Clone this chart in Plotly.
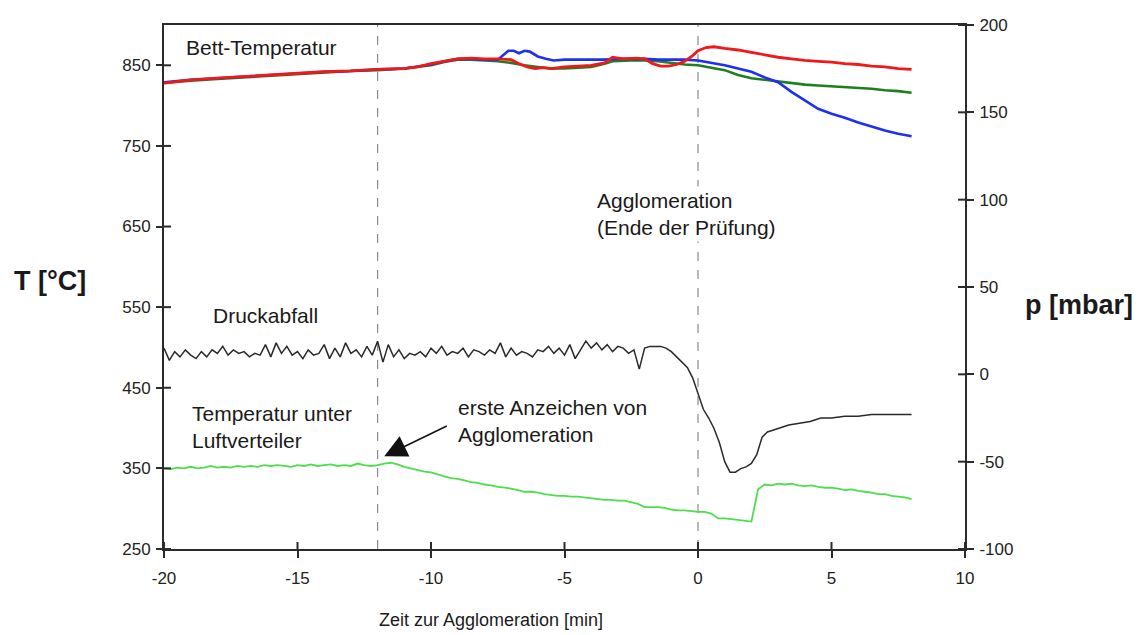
import plotly.graph_objects as go

# ---------------- data ----------------
# Bed temperatures (left axis, °C)
red_x = [-20, -19.5, -19, -18, -17, -16, -15, -14, -13, -12, -11, -10.5, -10, -9.5, -9, -8.5, -8, -7.5, -7,
         -6.7, -6.4, -6.1, -5.8, -5.5, -5, -4.5, -4, -3.5, -3.2, -2.8, -2.3, -2, -1.7, -1.4, -1.1, -0.8, -0.5,
         -0.2, 0, 0.3, 0.6, 1, 1.5, 2, 2.5, 3, 3.5, 4, 4.5, 5, 5.5, 6, 6.5, 7, 7.5, 8]
red_t = [828, 830, 832, 834, 836, 838, 840, 842, 843, 845, 846, 848, 852, 855, 858, 859, 858, 858, 857,
         852, 848, 846, 847, 846, 848, 849, 850, 853, 860, 858, 859, 858, 852, 849, 849, 851, 855,
         862, 868, 872, 873, 871, 869, 866, 863, 860, 858, 856, 855, 854, 852, 851, 849, 848, 846, 845]

blue_x = [-20, -19, -18, -17, -16, -15, -14, -13, -12, -11, -10, -9.5, -9, -8.5, -8, -7.5, -7.3, -7.1, -6.9,
          -6.7, -6.5, -6.3, -6.0, -5.7, -5.4, -5, -4.5, -4, -3.5, -3, -2.5, -2, -1.5, -1, -0.5, 0, 0.5, 1,
          1.5, 2, 2.5, 3, 3.5, 4, 4.5, 5, 5.5, 6, 6.5, 7, 7.5, 8]
blue_t = [829, 832, 834, 836, 838, 840, 842, 843, 845, 846, 851, 855, 858, 858, 857, 857, 862, 868, 868,
          865, 868, 867, 861, 858, 856, 857, 857, 857, 857, 858, 858, 858, 857, 857, 857, 856, 853, 850,
          846, 842, 835, 829, 817, 806, 796, 790, 785, 779, 774, 769, 765, 762]

green_x = [-20, -19, -18, -17, -16, -15, -14, -13, -12, -11, -10, -9.5, -9, -8.5, -8, -7.5, -7, -6.5, -6,
           -5.5, -5, -4.5, -4, -3.5, -3.2, -2.5, -2, -1.5, -1, -0.5, 0, 0.5, 1, 1.5, 2, 2.5, 3, 3.5, 4,
           4.5, 5, 5.5, 6, 6.5, 7, 7.5, 8]
green_t = [828, 831, 833, 835, 837, 839, 841, 843, 844, 846, 850, 854, 857, 857, 856, 855, 853, 850, 848,
           846, 846, 847, 848, 852, 855, 856, 856, 855, 853, 851, 850, 847, 844, 838, 834, 832, 830, 828, 826,
           825, 824, 823, 822, 821, 819, 818, 816]

# Temperature below the air distributor (left axis, °C), sampled every 0.25 min from -20
lg_start, lg_step = -20.0, 0.25
lg_t = [350, 349, 351, 350, 352, 350, 351, 353, 351, 352, 351, 353, 352, 353, 352, 354,
        353, 354, 353, 352, 354, 353, 355, 353, 354, 355, 353, 354, 353, 356, 354, 353,
        354, 356, 357, 355, 352, 350, 348, 346, 345, 342, 340, 338, 337, 335, 333, 332,
        330, 329, 327, 326, 325, 323, 321, 321, 320, 318, 317, 316, 316, 315, 315, 314,
        313, 312, 311, 311, 310, 310, 308, 306, 302, 302, 302, 301, 299, 298, 298, 297,
        296, 296, 294, 288, 288, 287, 286, 285, 284, 324, 330, 329, 331, 330, 331, 329,
        328, 329, 327, 326, 326, 325, 323, 324, 322, 321, 320, 318, 318, 316, 315, 314,
        312]

# Pressure drop (right axis, mbar): noisy part every 0.2 min from -20 to -1.2, then the drop
p_start, p_step = -20.0, 0.2
p_noisy = [15, 8, 13, 10, 14, 11, 9, 13, 10, 14, 12, 16, 11, 14, 12, 13, 10, 12, 11, 17,
           10, 18, 12, 16, 11, 13, 9, 14, 11, 12, 17, 9, 15, 10, 18, 12, 14, 10, 16, 11,
           19, 7, 17, 10, 14, 9, 12, 11, 13, 10, 15, 12, 16, 11, 13, 12, 15, 10, 14, 13,
           11, 14, 12, 18, 10, 15, 11, 13, 12, 10, 14, 13, 16, 12, 15, 11, 17, 9, 14, 19,
           15, 18, 14, 17, 13, 16, 15, 12, 14, 3, 15, 16, 16, 16, 15]
p_tail_x = [-1.0, -0.8, -0.6, -0.4, -0.2, 0, 0.2, 0.4, 0.6, 0.8, 1.0, 1.2, 1.4, 1.6, 1.8, 2.0, 2.2, 2.4,
            2.6, 2.8, 3.0, 3.4, 3.8, 4.2, 4.6, 5.0, 5.5, 6.0, 6.5, 7.0, 7.5, 8.0]
p_tail = [13, 10, 7, 4, -2, -11, -20, -25, -31, -39, -50, -56, -56, -54, -53, -51, -46, -36,
          -33, -32, -31, -29, -28, -27, -25, -25, -24, -24, -23, -23, -23, -23]

event_times = [-12, 0]

x_ticks = [-20, -15, -10, -5, 0, 5, 10]
t_ticks = [250, 350, 450, 550, 650, 750, 850]
p_ticks = [-100, -50, 0, 50, 100, 150, 200]

# ---------------- figure ----------------
W, H = 1141, 635
L, R, T, B = 164, 965, 25, 549
FONT = "Liberation Sans, Arial, sans-serif"
AX = "#2b2b2b"
TICKLEN = 7

lg_x = [lg_start + lg_step * i for i in range(len(lg_t))]
p_x = [p_start + p_step * i for i in range(len(p_noisy))] + p_tail_x
p_v = p_noisy + p_tail

fig = go.Figure()
fig.add_trace(go.Scatter(x=lg_x, y=lg_t, mode="lines", line=dict(color="#4be04b", width=1.8),
                         yaxis="y", showlegend=False))
fig.add_trace(go.Scatter(x=p_x, y=p_v, mode="lines", line=dict(color="#2a2a2a", width=1.5),
                         yaxis="y2", showlegend=False))
fig.add_trace(go.Scatter(x=green_x, y=green_t, mode="lines", line=dict(color="#1f7f1f", width=2.6),
                         showlegend=False))
fig.add_trace(go.Scatter(x=blue_x, y=blue_t, mode="lines", line=dict(color="#1f2ff0", width=2.6),
                         showlegend=False))
fig.add_trace(go.Scatter(x=red_x, y=red_t, mode="lines", line=dict(color="#f01818", width=2.8),
                         showlegend=False))

for xv in event_times:
    fig.add_vline(x=xv, line=dict(color="#8a8a8a", width=1.2, dash="dash"), layer="below")

# inward halves of the crossing tick marks
fx = TICKLEN / (R - L)
fy = TICKLEN / (B - T)
for xv in x_ticks:
    fig.add_shape(type="line", xref="x", yref="paper", x0=xv, x1=xv, y0=0, y1=fy,
                  line=dict(color=AX, width=2))
for tv in t_ticks:
    fig.add_shape(type="line", xref="paper", yref="y", x0=0, x1=fx, y0=tv, y1=tv,
                  line=dict(color=AX, width=2))
for pv in p_ticks:
    fig.add_shape(type="line", xref="paper", yref="y2", x0=1 - fx, x1=1, y0=pv, y1=pv,
                  line=dict(color=AX, width=2))

tickfont = dict(family=FONT, size=17, color="#222")
common = dict(showgrid=False, zeroline=False)
fig.update_layout(
    width=W, height=H,
    margin=dict(l=L, r=W - R, t=T, b=H - B, pad=0),
    paper_bgcolor="white", plot_bgcolor="white",
    font=dict(family=FONT, color="#222"),
    xaxis=dict(range=[-20, 10], tickvals=x_ticks, ticktext=[str(v) for v in x_ticks],
               ticks="outside", ticklen=TICKLEN, tickwidth=2, tickcolor=AX,
               showline=True, linecolor=AX, linewidth=2, mirror=True, tickfont=tickfont,
               ticklabelstandoff=6, **common),
    yaxis=dict(range=[250, 900], tickvals=t_ticks, ticktext=[str(v) for v in t_ticks],
               ticks="outside", ticklen=6, tickwidth=2, tickcolor=AX,
               showline=True, linecolor=AX, linewidth=2, tickfont=tickfont, ticklabelstandoff=2, **common),
    yaxis2=dict(range=[-100, 200], tickvals=p_ticks, ticktext=[str(v) for v in p_ticks],
                ticks="outside", ticklen=TICKLEN, tickwidth=2, tickcolor=AX,
                showline=True, linecolor=AX, linewidth=2, side="right", overlaying="y", anchor="x",
                tickfont=tickfont, ticklabelstandoff=2, **common),
)


def px(xp):
    return (xp - L) / (R - L)


def py(yp):
    return (B - yp) / (B - T)


def label(text, x, y, size, xanchor="left", bg=None):
    fig.add_annotation(text=text, xref="paper", yref="paper", x=px(x), y=py(y), xanchor=xanchor,
                       yanchor="middle", align="left", showarrow=False,
                       font=dict(family=FONT, size=size, color="#1a1a1a"),
                       bgcolor=bg if bg else "rgba(0,0,0,0)", borderpad=2)


label("<b>T [°C]</b>", 50, 281, 27, xanchor="center")
label("<b>p [mbar]</b>", 1079, 305, 27, xanchor="center")
label("Zeit zur Agglomeration [min]", 491, 620, 18, xanchor="center")
label("Bett-Temperatur", 183, 47, 21)
label("Agglomeration<br>(Ende der Prüfung)", 594, 214, 21, bg="white")
label("Druckabfall", 210, 315, 21)
label("Temperatur unter<br>Luftverteiler", 189, 427, 21)
label("erste Anzeichen von<br>Agglomeration", 455, 421, 21)

# arrow pointing to first signs of agglomeration
fig.add_annotation(x=-11.75, y=365, xref="x", yref="y", ax=64, ay=-31, text="", showarrow=True,
                   arrowhead=2, arrowsize=3, arrowwidth=1.5, arrowcolor="#111")

fig.write_html("out.html")
